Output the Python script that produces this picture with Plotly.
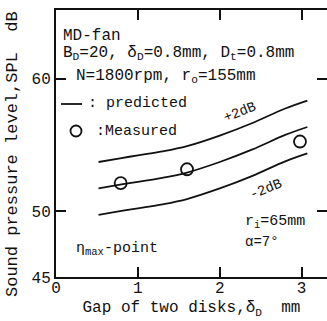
import numpy as np
import plotly.graph_objects as go

# Predicted SPL curve (centre line) and the +/-2 dB band around it
gap_pred = [0.52, 0.8, 1.0, 1.3, 1.6, 2.0, 2.4, 2.8, 3.07]
spl_pred = [51.7, 52.0, 52.2, 52.5, 52.9, 53.7, 54.65, 55.75, 56.35]
band_db = 2.0

# Measured points
gap_meas = [0.79, 1.6, 2.98]
spl_meas = [52.1, 53.15, 55.25]

x_ticks = [0, 1, 2, 3]
y_ticks = [45, 50, 60]

FONT = "Liberation Mono"
BLACK = "#111111"

spl_pred = np.array(spl_pred)

fig = go.Figure()
for offset in (band_db, 0.0, -band_db):
    fig.add_trace(go.Scatter(
        x=gap_pred, y=spl_pred + offset, mode="lines",
        line=dict(color=BLACK, width=1.8, shape="spline", smoothing=1.0),
        showlegend=False, hoverinfo="skip"))

fig.add_trace(go.Scatter(
    x=gap_meas, y=spl_meas, mode="markers",
    marker=dict(symbol="circle-open", size=12, color=BLACK, line=dict(width=1.8)),
    showlegend=False))

# right-hand inner ticks (no axis line)
fig.add_trace(go.Scatter(x=[None], y=[None], yaxis="y2", showlegend=False))

L, R, T, B = 56, 0, 10, 44
W, H = 327, 321
pw, ph = W - L - R, H - T - B


def px(xp):
    return (xp - L) / pw


def py(yp):
    return (H - B - yp) / ph


ann = []


def label(x, y, text, xanchor="left", angle=0, size=14):
    ann.append(dict(x=px(x), y=py(y), xref="paper", yref="paper", text=text,
                    showarrow=False, xanchor=xanchor, yanchor="middle",
                    textangle=angle, font=dict(family=FONT, size=size, color=BLACK)))


label(61, 36, "MD-fan", size=16)
label(61, 54, "B<sub>D</sub>=20, δ<sub>D</sub>=0.8mm, D<sub>t</sub>=0.8mm", size=16)
label(74, 76, "N=1800rpm, r<sub>o</sub>=155mm", size=16)
label(86, 104, ": predicted", size=15)
label(94, 131, ":Measured", size=15)
label(240, 112, "+2dB", xanchor="center", angle=-22, size=14)
label(266, 189, "-2dB", xanchor="center", angle=-22, size=14)
label(243, 222, "r<sub>i</sub>=65mm", size=15)
label(243, 242, "α=7°", size=14)
label(74, 249, "η<sub>max</sub>-point", size=15)
label(12, 154, "Sound pressure level,SPL  dB", xanchor="center", angle=-90, size=17)

shapes = [
    dict(type="line", xref="paper", yref="paper", x0=px(61), x1=px(82),
         y0=py(104), y1=py(104), line=dict(color=BLACK, width=1.8)),
    dict(type="circle", xref="paper", yref="paper", xsizemode="pixel", ysizemode="pixel",
         xanchor=px(76), yanchor=py(131), x0=-5.5, x1=5.5, y0=-5.5, y1=5.5,
         line=dict(color=BLACK, width=1.8)),
]

fig.update_layout(
    width=W, height=H,
    margin=dict(l=L, r=R, t=T, b=B, pad=0),
    paper_bgcolor="white", plot_bgcolor="white",
    showlegend=False,
    annotations=ann, shapes=shapes,
    font=dict(family=FONT, size=16, color=BLACK),
    xaxis=dict(range=[0, 3.31], tickvals=x_ticks, ticktext=[str(v) for v in x_ticks],
               ticks="inside", ticklen=10, tickwidth=1.8, tickcolor=BLACK,
               ticklabelstandoff=-5,
               showline=True, linecolor=BLACK, linewidth=2, mirror="ticks",
               showgrid=False, zeroline=False,
               tickfont=dict(family=FONT, size=16),
               title=dict(text="Gap of two disks,δ<sub>D</sub>  mm",
                          font=dict(family=FONT, size=16), standoff=4)),
    yaxis=dict(range=[45, 65.2], tickvals=y_ticks, ticktext=[str(v) for v in y_ticks],
               ticks="inside", ticklen=10, tickwidth=1.8, tickcolor=BLACK,
               showline=True, linecolor=BLACK, linewidth=2,
               showgrid=False, zeroline=False,
               tickfont=dict(family=FONT, size=16)),
    yaxis2=dict(range=[45, 65.2], overlaying="y", side="right", anchor="x",
                tickvals=[50, 60], showticklabels=False, ticks="inside",
                ticklen=10, tickwidth=1.8, tickcolor=BLACK,
                showline=False, showgrid=False, zeroline=False),
)

fig.write_html("out.html")
